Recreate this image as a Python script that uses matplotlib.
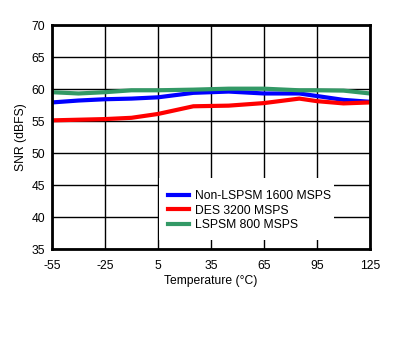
import matplotlib
matplotlib.use("Agg")
import matplotlib.pyplot as plt
from matplotlib.patches import Rectangle

plt.rcParams['font.family'] = ['Liberation Sans', 'DejaVu Sans']
plt.rcParams['axes.unicode_minus'] = False

temps = [-55, -40, -25, -10, 5, 25, 45, 65, 85, 95, 110, 125]
non_lspsm = [57.9, 58.2, 58.4, 58.5, 58.7, 59.4, 59.6, 59.3, 59.3, 58.9, 58.3, 58.0]
des = [55.1, 55.2, 55.3, 55.5, 56.1, 57.3, 57.4, 57.8, 58.5, 58.1, 57.75, 57.9]
lspsm = [59.5, 59.3, 59.5, 59.8, 59.8, 59.9, 60.05, 60.05, 59.8, 59.8, 59.75, 59.3]

xticks = [-55, -25, 5, 35, 65, 95, 125]
yticks = [35, 40, 45, 50, 55, 60, 65, 70]

fig = plt.figure(figsize=(4.17, 3.57), dpi=100)
ax = fig.add_axes([52/417, 1-249/357, (370-52)/417, (249-25)/357])

ax.plot(temps, non_lspsm, color='#0000FF', lw=3, label='Non-LSPSM 1600 MSPS', zorder=3)
ax.plot(temps, des, color='#FF0000', lw=3, label='DES 3200 MSPS', zorder=3)
ax.plot(temps, lspsm, color='#339966', lw=3, label='LSPSM 800 MSPS', zorder=3)

ax.set_xlim(-55, 125)
ax.set_ylim(35, 70)
ax.set_xticks(xticks)
ax.set_yticks(yticks)
ax.tick_params(length=0, labelsize=8.7)
ax.tick_params(axis='x', pad=8)
ax.tick_params(axis='y', pad=5)
ax.grid(True, color='black', lw=1)
for s in ax.spines.values():
    s.set_linewidth(2)
    s.set_zorder(5)
ax.set_xlabel('Temperature (°C)', fontsize=8.7, labelpad=2)
ax.set_ylabel('SNR (dBFS)', fontsize=8.7, labelpad=3)

ax.add_patch(Rectangle((0.3365, 0.040), 0.5503, 0.277, transform=ax.transAxes,
                       facecolor='white', edgecolor='none', zorder=2.5))

leg = ax.legend(loc='upper left', fontsize=8.7, frameon=False, handlelength=1.7,
                borderaxespad=0, borderpad=0, labelspacing=0.2, handletextpad=0.5,
                bbox_to_anchor=(0.365, 0.262))
leg.set_zorder(6)
fig.savefig('out.png', dpi=100)
